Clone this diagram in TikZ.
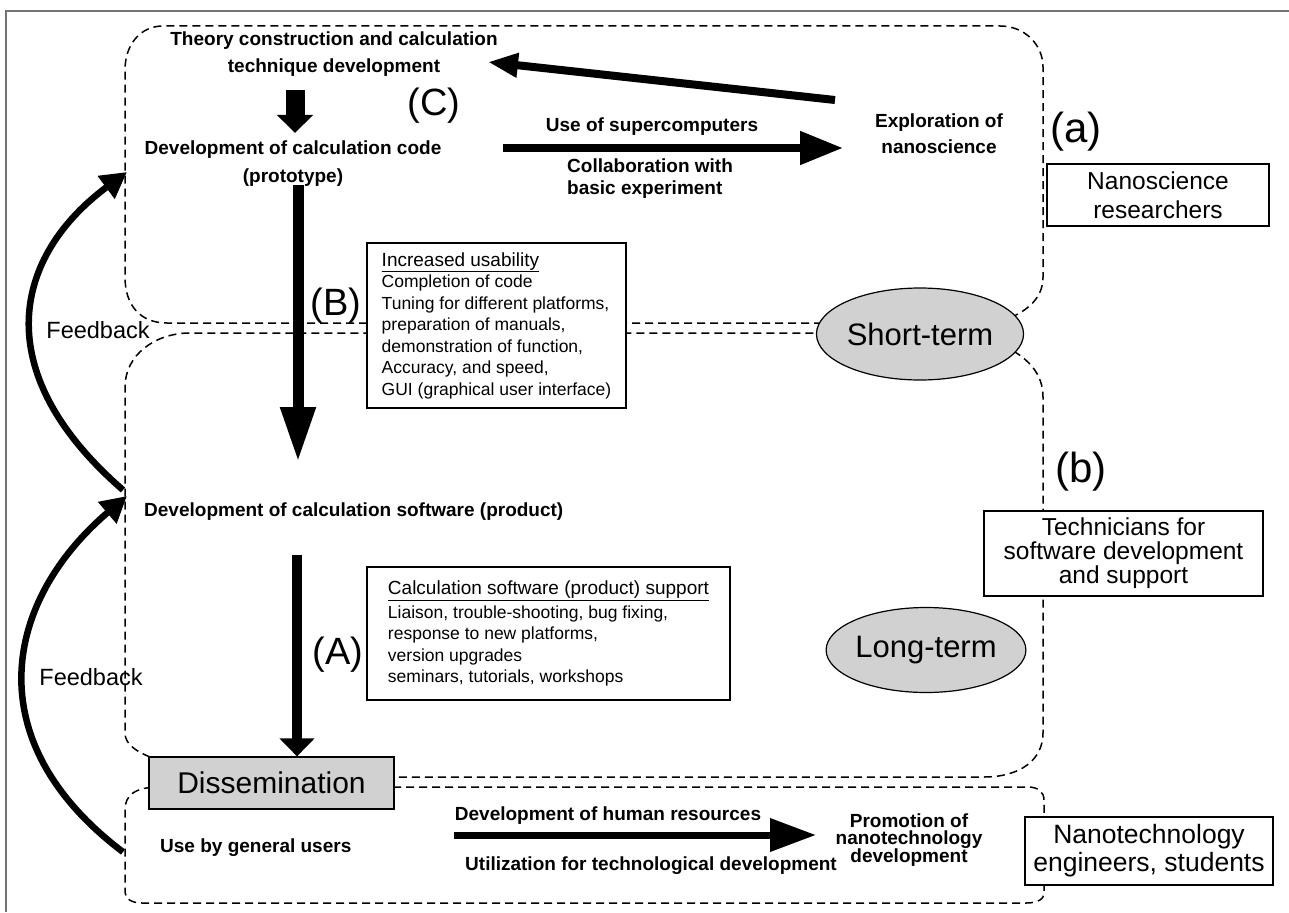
\documentclass[tikz,border=0pt]{standalone}
\usepackage{fontspec}
\setmainfont{Liberation Sans}
\usetikzlibrary{arrows.meta,shapes.geometric}
\definecolor{shade}{gray}{0.82}
\definecolor{framegray}{gray}{0.45}
\newcommand\setfs[2]{\fontsize{#1}{#2}\selectfont}

\begin{document}
\begin{tikzpicture}[x=1pt,y=-1pt,
  region/.style={draw, line width=1.5pt, dash pattern=on 8pt off 5pt},
  bt/.style={font=\bfseries\setfs{19}{27}, align=center, inner sep=0pt},
  infobox/.style={draw, fill=white, line width=1.3pt, align=left, inner sep=0pt,
    font=\setfs{17.5}{21.5}},
  groupbox/.style={draw, fill=white, line width=1.3pt, align=center, inner sep=0pt},
  term/.style={ellipse, draw, fill=shade, line width=1.2pt, inner sep=0pt,
    font=\setfs{31}{31}},
  tag/.style={inner sep=0pt, font=\setfs{38}{38}},
  bigtag/.style={inner sep=0pt, font=\setfs{42}{42}},
  fbarrow/.style={line width=6.5pt, -{Triangle[length=26pt,width=27pt]}},
  fblabel/.style={inner sep=0pt, font=\setfs{23.5}{23.5}}
]
\useasboundingbox (0,0) rectangle (1289,912);

% outer frame (top and left edges)
\draw[framegray, line width=1.5pt] (6,912) -- (6,11) -- (1289,11);

% dashed group outlines
\draw[region] (900,323) -- (167,323) .. controls (140,323) and (125,305) .. (125,277)
  -- (125,70) .. controls (125,45) and (140,26) .. (163,26)
  -- (1000,26) .. controls (1025,26) and (1043,45) .. (1043,67)
  -- (1043,277) .. controls (1043,300) and (1025,315) .. (990,325);
\draw[region] (150,757) .. controls (138,752) and (125,745) .. (125,733)
  -- (125,387) .. controls (125,355) and (155,333) .. (190,333) -- (900,333);
\draw[region] (990,340) .. controls (1030,355) and (1043,375) .. (1043,397)
  -- (1043,733) .. controls (1043,760) and (1020,777) .. (984,777) -- (380,777);
\draw[region] (380,787) -- (1028,787) .. controls (1038,787) and (1044,792) .. (1044,800)
  -- (1044,893) .. controls (1044,899) and (1038,903) .. (1026,903)
  -- (142,903) .. controls (132,903) and (125,899) .. (125,892)
  -- (125,810) .. controls (125,795) and (135,787) .. (160,787);

% grey markers
\node[term, minimum width=170pt, minimum height=92pt] (short) at (920,334) {Short-term};
\node[term, minimum width=158pt, minimum height=85pt] (long) at (926,650) {Long-term};
\node[draw, fill=shade, line width=1.2pt, minimum width=245pt, minimum height=52pt,
  inner sep=0pt, font=\setfs{30}{30}] (dissem) at (271.5,783) {Dissemination};

% detail boxes
\node[infobox, minimum width=259pt, minimum height=165pt] (usab) at (496.5,325.5)
  {{\setfs{19}{21.5}\underline{Increased usability}}\\
   Completion of code\\
   Tuning for different platforms,\\
   preparation of manuals,\\
   demonstration of function,\\
   Accuracy, and speed,\\
   GUI (graphical user interface)};
\node[infobox, minimum width=363pt, minimum height=133pt] (supp) at (548.5,633.5)
  {{\setfs{19}{21.5}\underline{Calculation software (product) support}}\\[2pt]
   Liaison, trouble-shooting, bug fixing,\\
   response to new platforms,\\
   version upgrades\\
   seminars, tutorials, workshops};

% people boxes
\node[groupbox, minimum width=222pt, minimum height=62pt, font=\setfs{24.5}{29}]
  (sci) at (1158,195) {Nanoscience\\researchers};
\node[groupbox, minimum width=279pt, minimum height=85pt, font=\setfs{24.5}{24}]
  (tech) at (1123.5,553.5) {Technicians for\\software development\\and support};
\node[groupbox, minimum width=248pt, minimum height=68pt, font=\setfs{26.5}{28}]
  (eng) at (1149,851) {Nanotechnology\\engineers, students};

% stage texts
\node[bt] (theory) at (334,54) {Theory construction and calculation\\technique development};
\node[bt, font=\bfseries\setfs{19}{28}] (code) at (293,164) {Development of calculation code\\(prototype)};
\node[bt, font=\bfseries\setfs{19}{26}] (explore) at (939,134) {Exploration of\\nanoscience};
\node[bt] (super) at (652,127) {Use of supercomputers};
\node[bt, font=\bfseries\setfs{19}{22}, anchor=west, align=left] (collab) at (567,179)
  {Collaboration with\\basic experiment};
\node[bt, anchor=west] (software) at (144,512) {Development of calculation software (product)};
\node[bt, anchor=west] (users) at (160,848) {Use by general users};
\node[bt] (human) at (608,816) {Development of human resources};
\node[bt] (util) at (651,866) {Utilization for technological development};
\node[bt, font=\bfseries\setfs{19}{17}] (promo) at (909,840) {Promotion of\\nanotechnology\\development};

% labels
\node[tag] (lC) at (434,106) {(C)};
\node[tag] (lB) at (336,306) {(B)};
\node[tag] (lA) at (338,655) {(A)};
\node[bigtag] (la) at (1076,132) {(a)};
\node[bigtag] (lb) at (1081,472) {(b)};
\node[fblabel] (fb1) at (98,330) {Feedback};
\node[fblabel] (fb2) at (91,677) {Feedback};

% arrow end points
\coordinate (t1) at (295,90);   \coordinate (t2) at (295,133);
\coordinate (b1) at (298,185);  \coordinate (b2) at (298,462);
\coordinate (a1) at (297,555);
\coordinate (s1) at (503,148);  \coordinate (s2) at (843,148);
\coordinate (r1) at (835,100);  \coordinate (r2) at (488,62);
\coordinate (h1) at (454,835);  \coordinate (h2) at (816,835);
\coordinate (f1s) at (123,490); \coordinate (f1e) at (127,172);
\coordinate (f2s) at (123,852); \coordinate (f2e) at (127,496);

% main flow arrows
\draw[line width=19pt, -{Triangle[length=18pt,width=35pt]}] (t1) -- (t2);
\draw[line width=11pt, -{Triangle[length=55pt,width=33pt]}] (b1) -- (b2);
\draw[line width=10pt, -{Triangle[length=18pt,width=34pt]}] (a1) -- (dissem.north -| a1);
\draw[line width=8pt, -{Triangle[length=43pt,width=32pt]}] (s1) -- (s2);
\draw[line width=8pt, -{Triangle[length=30pt,width=23pt]}] (r1) -- (r2);
\draw[line width=7pt, -{Triangle[length=46pt,width=32pt]}] (h1) -- (h2);

% feedback loops
\draw[fbarrow] (f1s) .. controls (-15,370) and (15,255) .. (f1e);
\draw[fbarrow] (f2s) .. controls (-25,740) and (5,600) .. (f2e);
\end{tikzpicture}
\end{document}
